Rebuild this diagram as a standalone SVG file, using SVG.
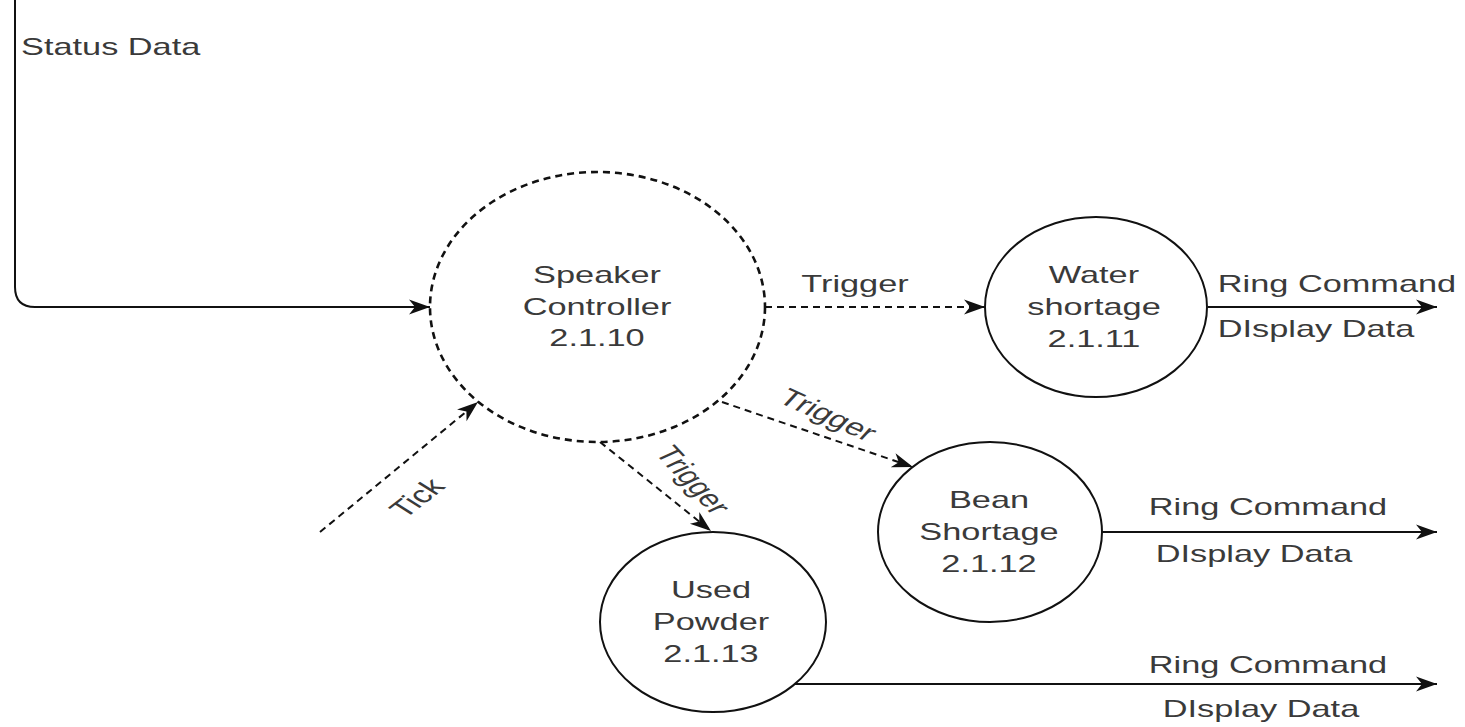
<svg xmlns="http://www.w3.org/2000/svg" width="1465" height="727" viewBox="0 0 1465 727">
<defs>
<style>
.t{font-family:"Liberation Sans",Arial,Helvetica,sans-serif;font-size:24px;fill:#3a3a3a;text-anchor:middle}
.ts{text-anchor:start}
.node{fill:#fff;stroke:#111;stroke-width:2}
.dash{stroke-dasharray:7 5}
.bold{stroke-width:2.6}
.edge{fill:none;stroke:#111;stroke-width:2}
</style>
<marker id="arr" markerUnits="userSpaceOnUse" markerWidth="26" markerHeight="20" viewBox="-23 -10 26 20" refX="0" refY="0" orient="auto">
<path d="M0,0 L-21,-7.5 L-15,0 L-21,7.5 Z" fill="#111"/>
</marker>
</defs>
<rect width="1465" height="727" fill="#fff"/>

<g id="connectors">
<path class="edge" d="M15,0 V287 Q15,307 35,307 H430" marker-end="url(#arr)"/>
<path class="edge dash" d="M765,307 H985" marker-end="url(#arr)"/>
<path class="edge dash" d="M722,402 L913,467" marker-end="url(#arr)"/>
<path class="edge dash" d="M600,442 L711,531" marker-end="url(#arr)"/>
<path class="edge dash" d="M320,532 L478,402" marker-end="url(#arr)"/>
<path class="edge" d="M1208,307 H1437" marker-end="url(#arr)"/>
<path class="edge" d="M1102,532 H1437" marker-end="url(#arr)"/>
<path class="edge" d="M795,684 H1437" marker-end="url(#arr)"/>

<text class="t ts" transform="translate(21,55) scale(1.43,1)">Status Data</text>
<text class="t" transform="translate(855,292) scale(1.43,1)">Trigger</text>
<text class="t" transform="translate(828,415) scale(1.43,1) rotate(32.5)" y="8">Trigger</text>
<text class="t" transform="translate(693,480) scale(1.43,1) rotate(57)" y="8">Trigger</text>
<text class="t" transform="translate(417,498) scale(1.43,1) rotate(-48)" y="8">Tick</text>

<text class="t" transform="translate(1337,292) scale(1.43,1)">Ring Command</text>
<text class="t" transform="translate(1316,337) scale(1.43,1)">DIsplay Data</text>
<text class="t" transform="translate(1268,515) scale(1.43,1)">Ring Command</text>
<text class="t" transform="translate(1254,562) scale(1.43,1)">DIsplay Data</text>
<text class="t" transform="translate(1268,673) scale(1.43,1)">Ring Command</text>
<text class="t" transform="translate(1261,717) scale(1.43,1)">DIsplay Data</text>
</g>

<g id="speaker-controller">
<ellipse class="node dash bold" cx="597.5" cy="307" rx="167.5" ry="135"/>
<text class="t" transform="translate(597,283) scale(1.43,1)">Speaker</text>
<text class="t" transform="translate(597,315) scale(1.43,1)">Controller</text>
<text class="t" transform="translate(597,346) scale(1.43,1)">2.1.10</text>
</g>

<g id="water-shortage">
<ellipse class="node" cx="1096" cy="307" rx="111" ry="90"/>
<text class="t" transform="translate(1094,283) scale(1.43,1)">Water</text>
<text class="t" transform="translate(1094,315) scale(1.43,1)">shortage</text>
<text class="t" transform="translate(1094,347) scale(1.43,1)">2.1.11</text>
</g>

<g id="bean-shortage">
<ellipse class="node" cx="990" cy="532" rx="112" ry="90"/>
<text class="t" transform="translate(989,508) scale(1.43,1)">Bean</text>
<text class="t" transform="translate(989,540) scale(1.43,1)">Shortage</text>
<text class="t" transform="translate(989,572) scale(1.43,1)">2.1.12</text>
</g>

<g id="used-powder">
<ellipse class="node" cx="713" cy="622" rx="113" ry="90"/>
<text class="t" transform="translate(711,598) scale(1.43,1)">Used</text>
<text class="t" transform="translate(711,630) scale(1.43,1)">Powder</text>
<text class="t" transform="translate(711,662) scale(1.43,1)">2.1.13</text>
</g>
</svg>
